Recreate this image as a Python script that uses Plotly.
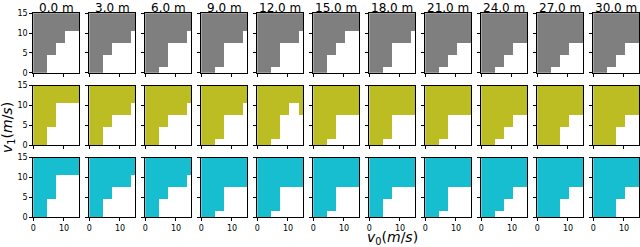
import plotly.graph_objects as go

# ---- data ----
distances = [0.0, 3.0, 6.0, 9.0, 12.0, 15.0, 18.0, 21.0, 24.0, 27.0, 30.0]
v0_values = [0, 3, 6, 9, 12, 15]
v1_values = [0, 3, 6, 9, 12, 15]
# number of infeasible (white) v1 cells counted from the bottom, for each v0 column
gray_white = [
    [0, 0, 2, 3, 4, 4], [0, 0, 2, 3, 3, 4], [0, 0, 1, 3, 3, 4], [0, 0, 1, 3, 3, 4],
    [0, 0, 1, 3, 3, 4], [0, 0, 2, 3, 4, 4], [0, 0, 1, 3, 3, 4], [0, 0, 1, 2, 3, 3],
    [0, 0, 1, 2, 3, 3], [0, 0, 1, 2, 3, 3], [0, 0, 1, 2, 3, 3],
]
olive_white = [
    [0, 0, 2, 4, 4, 4], [0, 0, 2, 3, 3, 4], [0, 0, 2, 3, 3, 4], [0, 0, 1, 3, 3, 4],
    [0, 0, 1, 3, 4, 3], [0, 0, 1, 3, 3, 3], [0, 0, 1, 3, 3, 3], [0, 0, 1, 3, 3, 3],
    [0, 0, 1, 2, 3, 3], [0, 0, 0, 2, 3, 3], [0, 0, 0, 2, 3, 3],
]
cyan_white = [
    [0, 0, 2, 4, 4, 4], [0, 0, 2, 3, 3, 4], [0, 0, 2, 3, 3, 4], [0, 0, 1, 3, 3, 3],
    [0, 0, 1, 3, 3, 3], [0, 0, 1, 3, 3, 3], [0, 0, 2, 3, 3, 3], [0, 0, 1, 3, 3, 3],
    [0, 0, 1, 2, 3, 3], [0, 0, 0, 2, 3, 3], [0, 0, 0, 2, 3, 3],
]
row_data = [gray_white, olive_white, cyan_white]
row_colors = ["#7f7f7f", "#bcbd22", "#17becf"]
x_ticks = [0, 10]
y_ticks = [0, 5, 10, 15]

# ---- layout geometry (pixels) ----
W, H = 640, 247
col_left0, col_pitch, col_w = 33.3, 56.0, 46.0
row_tops, row_h = [13.3, 85.5, 157.5], 59.5

fig = go.Figure()
layout = dict(
    width=W, height=H, margin=dict(l=0, r=0, t=0, b=0, pad=0, autoexpand=False),
    paper_bgcolor="white", plot_bgcolor="white", showlegend=False,
    font=dict(family="DejaVu Sans", color="black"),
)
annotations = []
n = 0
for r, (panels, color) in enumerate(zip(row_data, row_colors)):
    for c, heights in enumerate(panels):
        n += 1
        z = [[0 if j < heights[i] else 1 for i in range(len(v0_values))]
             for j in range(len(v1_values))]
        xa = "x" if n == 1 else f"x{n}"
        ya = "y" if n == 1 else f"y{n}"
        fig.add_trace(go.Heatmap(
            x=v0_values, y=v1_values, z=z, zmin=0, zmax=1,
            colorscale=[[0, "white"], [1, color]], showscale=False,
            xaxis=xa, yaxis=ya, hoverinfo="skip",
        ))
        left = col_left0 + col_pitch * c
        top = row_tops[r]
        xd = [left / W, min(1.0, (left + col_w) / W)]
        yd = [1 - (top + row_h) / H, 1 - top / H]
        axk = "xaxis" if n == 1 else f"xaxis{n}"
        ayk = "yaxis" if n == 1 else f"yaxis{n}"
        layout[axk] = dict(
            domain=xd, anchor=ya, range=[0, 15], tickvals=x_ticks,
            showticklabels=(r == 2), ticks="outside", ticklen=3, tickwidth=1,
            tickcolor="black", showline=True, mirror=True, linecolor="black",
            linewidth=1, showgrid=False, zeroline=False, automargin=False,
            tickfont=dict(size=8, family="DejaVu Sans"),
        )
        layout[ayk] = dict(
            domain=yd, anchor=xa, range=[0, 15], tickvals=y_ticks,
            showticklabels=(c == 0), ticks="outside", ticklen=3, tickwidth=1,
            tickcolor="black", showline=True, mirror=True, linecolor="black",
            linewidth=1, showgrid=False, zeroline=False, automargin=False,
            tickfont=dict(size=8, family="DejaVu Sans"),
        )
        if r == 0:
            annotations.append(dict(
                x=(left + col_w / 2) / W, y=1.0, xref="paper", yref="paper",
                text=f"{distances[c]:.1f} m", showarrow=False, yanchor="top",
                xanchor="center", yshift=1, font=dict(size=12, family="DejaVu Sans"),
            ))

annotations.append(dict(
    x=8 / W, y=1 - 128 / H, xref="paper", yref="paper",
    text="<i>v</i><sub>1</sub>(<i>m</i>/<i>s</i>)", showarrow=False,
    textangle=-90, xanchor="center", yanchor="middle",
    font=dict(size=14, family="DejaVu Sans"),
))
annotations.append(dict(
    x=392 / W, y=0.0, xref="paper", yref="paper",
    text="<i>v</i><sub>0</sub>(<i>m</i>/<i>s</i>)", showarrow=False,
    xanchor="center", yanchor="bottom", yshift=-2,
    font=dict(size=14, family="DejaVu Sans"),
))
layout["annotations"] = annotations
fig.update_layout(**layout)
fig.write_html(
    "out.html",
    config={"displayModeBar": False},
    post_script="document.body.style.margin='0';document.body.style.overflow='hidden';",
)
